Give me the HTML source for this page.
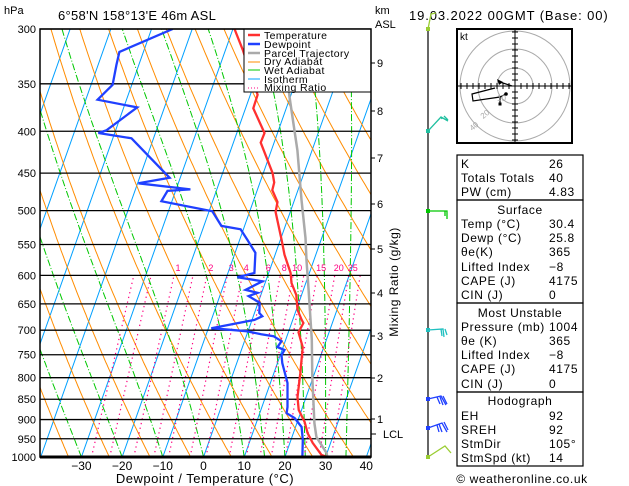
<!DOCTYPE html>
<html><head><meta charset="utf-8">
<style>
body{margin:0;background:#fff;width:629px;height:486px;overflow:hidden;font-family:"Liberation Sans",sans-serif}
svg{position:absolute;left:0;top:0}
text{font-family:"Liberation Sans",sans-serif}
</style></head>
<body>
<svg id="chart" width="629" height="486" viewBox="0 0 629 486">
<defs><clipPath id="plotclip"><rect x="40" y="29" width="331" height="428"/></clipPath></defs>
<g id="bg" clip-path="url(#plotclip)"></g>
<g id="grid"></g>
<g id="series" clip-path="url(#plotclip)"></g>
<g>
<rect x="244" y="29" width="127" height="63" fill="#fff" stroke="#000" stroke-width="1"/>
<line x1="248" y1="35" x2="260" y2="35" stroke="#ff3030" stroke-width="2.5"/><text x="264" y="39" font-size="10.5" letter-spacing="0.4">Temperature</text>
<line x1="248" y1="44" x2="260" y2="44" stroke="#2040ff" stroke-width="2.5"/><text x="264" y="48" font-size="10.5" letter-spacing="0.4">Dewpoint</text>
<line x1="248" y1="53" x2="260" y2="53" stroke="#aaa" stroke-width="2.5"/><text x="264" y="57" font-size="10.5" letter-spacing="0.4">Parcel Trajectory</text>
<line x1="248" y1="62" x2="260" y2="62" stroke="#ff8c00" stroke-width="1"/><text x="264" y="65" font-size="10.5" letter-spacing="0.4">Dry Adiabat</text>
<line x1="248" y1="70" x2="260" y2="70" stroke="#00c800" stroke-width="1"/><text x="264" y="74" font-size="10.5" letter-spacing="0.4">Wet Adiabat</text>
<line x1="248" y1="79" x2="260" y2="79" stroke="#00a0ff" stroke-width="1"/><text x="264" y="83" font-size="10.5" letter-spacing="0.4">Isotherm</text>
<line x1="248" y1="88" x2="260" y2="88" stroke="#ff0080" stroke-width="1" stroke-dasharray="1,2"/><text x="264" y="91" font-size="10.5" letter-spacing="0.4">Mixing Ratio</text>
</g>
<rect x="40" y="29" width="331" height="428" fill="none" stroke="#000" stroke-width="1.5"/>
<line x1="40" y1="457" x2="371" y2="457" stroke="#000" stroke-width="3"/>
<text x="4" y="14" font-size="11">hPa</text>
<text x="58" y="20" font-size="13" letter-spacing="0.3">6°58'N  158°13'E  46m  ASL</text>
<text x="375" y="14" font-size="11">km</text>
<text x="375" y="28" font-size="11">ASL</text>
<text x="409" y="20" font-size="13" letter-spacing="0.9">19.03.2022  00GMT  (Base: 00)</text>
<text x="205" y="483" font-size="13" letter-spacing="0.5" text-anchor="middle">Dewpoint / Temperature (°C)</text>
<text transform="translate(398,282) rotate(-90)" font-size="12" letter-spacing="0.5" text-anchor="middle">Mixing Ratio (g/kg)</text>
<g id="km"></g>
<g id="barbs"></g>
<g>
<rect x="457" y="29" width="115" height="114" fill="#fff" stroke="#000" stroke-width="2"/>
<text x="460" y="40" font-size="10">kt</text>
<circle cx="515" cy="86" r="18" fill="none" stroke="#aaa"/>
<circle cx="515" cy="86" r="37" fill="none" stroke="#aaa"/>
<circle cx="515" cy="86" r="55" fill="none" stroke="#aaa"/>
<line x1="457" y1="86" x2="572" y2="86" stroke="#000"/>
<line x1="515" y1="29" x2="515" y2="143" stroke="#000"/>
<g id="hodoticks"></g>
<path d="M500 82 L512 86 M495 88 L472 94 L473 101 L500 97 L506 94 M500 97 L500 104" fill="none" stroke="#000" stroke-width="1.2"/>
<path d="M497 79 L503 82 L499 85 Z" fill="#000"/>
<circle cx="506" cy="94" r="1.8" fill="#000"/><rect x="498.5" y="102.5" width="3" height="3" fill="#000"/>
<text x="497" y="101" font-size="8" fill="#aaa">10</text>
<text x="481" y="117" font-size="8" fill="#aaa" transform="rotate(-40 485 115)">20</text>
<text x="470" y="129" font-size="8" fill="#aaa" transform="rotate(-40 474 127)">40</text>
</g>
<g id="table" font-size="12" letter-spacing="0.6"></g>
<text x="522" y="483" font-size="12" letter-spacing="0.6" text-anchor="middle">© weatheronline.co.uk</text>
</svg>
<script>
// ---- data ----
const pressureLevels=[300,350,400,450,500,550,600,650,700,750,800,850,900,950,1000];
const tempTicks=[-30,-20,-10,0,10,20,30,40];
const tempP=[300,318,361,375,402,413,450,462,472,488,502,543,566,596,613,634,661,680,686,704,734,790,845,876,906,935,961,994,1000];
const tempT=[-29.6,-25.8,-18.2,-18.1,-13.2,-13.3,-7.7,-6.5,-6.3,-4.0,-3.6,0.3,2.3,5.4,6.5,8.7,10.3,12.2,12.9,12.5,14.8,16.5,17.9,19.3,21.8,23.5,25.6,28.8,30.4];
const dewP=[300,320,332,351,366,374,399,402,408,456,463,471,473,487,501,522,527,543,563,596,603,610,625,630,636,648,667,673,680,696,702,708,712,722,734,740,751,768,812,869,884,896,919,953,997,1000];
const dewT=[-44.8,-55.9,-55.5,-54.7,-57.1,-46.7,-52.3,-54.0,-45.4,-32.6,-39.8,-26.5,-32.0,-32.6,-19.2,-15.7,-10.7,-8.1,-5.0,-3.5,-7.3,-0.8,-4.2,-1.0,-2.9,0.4,1.2,2.2,0.6,-9.3,-0.4,3.5,6.7,9.1,8.6,10.6,10.3,11.2,14.2,16.3,16.6,19.0,21.5,22.9,24.2,24.5];
const parcelP=[300,363,422,485,540,575,625,719,799,909,945,989,1000];
const parcelT=[-17.8,-10.2,-3.6,1.7,6.0,8.2,11.3,16.4,19.8,24.3,26.0,29.9,30.4];
const dryTheta=[230,240,250,260,270,280,290,300,310,320,330,340,350,360,370,380,390,400,410,420,430,440,450,460,470,480];
const wetT1000=[-30,-20,-10,0,10,15,20,25,30,35];
const isoT=[-120,-110,-100,-90,-80,-70,-60,-50,-40,-30,-20,-10,0,10,20,30,40];
const mixW=[0.4,0.6,1,1.5,2,3,4,6,8,10,12,15,20,25,30];
const mixLabels=[1,2,3,4,6,8,10,15,20,25];
const kmValues=[1,2,3,4,5,6,7,8,9];
const kmY=[419,378,336,293,249,204,158,111,63];
// ---- axes ----
const NS='http://www.w3.org/2000/svg';
function yP(p){return 29+Math.log(p/300)/Math.log(1000/300)*428;}
function xT(t,p){return 203.5+4.07*t+0.354*(457-yP(p));}
function mk(tag,attrs,parent){const e=document.createElementNS(NS,tag);for(const k in attrs)e.setAttribute(k,attrs[k]);parent.appendChild(e);return e;}
const bg=document.getElementById('bg'),grid=document.getElementById('grid'),series=document.getElementById('series');
function poly(pts,style,parent,name){const d=pts.map((q,i)=>(i?'L':'M')+q[0].toFixed(1)+' '+q[1].toFixed(1)).join(' ');
 const e=mk('path',Object.assign({d:d,fill:'none'},style),parent);
 
 return e;}
const pSteps=[];for(let p=1000;p>=290;p-=5)pSteps.push(p);
isoT.forEach(t=>{poly([[xT(t,1000),yP(1000)],[xT(t,290),yP(290)]],{stroke:'#00a0ff','stroke-width':1},bg,'isotherm');});
dryTheta.forEach(th=>{poly(pSteps.map(p=>[xT(th*Math.pow(p/1000,0.286)-273.15,p),yP(p)]),{stroke:'#ff8c00','stroke-width':1},bg,'dry-adiabat');});
function es(tc){return 6.112*Math.exp(17.67*tc/(tc+243.5));}
wetT1000.forEach(t0=>{let T=t0+273.15,pts=[];for(let p=1000;p>=290;p-=5){pts.push([xT(T-273.15,p),yP(p)]);
 const e=es(T-273.15),rs=0.622*e/(p-e),Lv=2.5e6,Rd=287,cp=1005;
 const dTdp=(Rd*T+Lv*rs)/(p*(cp+Lv*Lv*rs*0.622/(Rd*T*T)));T-=dTdp*5;}
 poly(pts,{stroke:'#00c800','stroke-width':1,'stroke-dasharray':'7,2,1,2'},bg,'wet-adiabat');});
function tdW(w,p){const e=w/1000*p/(0.622+w/1000),l=Math.log(e/6.112);return 243.5*l/(17.67-l);}
mixW.forEach(w=>{poly([[xT(tdW(w,1000),1000),yP(1000)],[xT(tdW(w,600),600),yP(600)]],{stroke:'#ff0080','stroke-width':1.2,'stroke-dasharray':'1.3,3.5'},bg,'mixing-ratio-line');});
mixLabels.forEach(w=>{const t=mk('text',{x:(xT(tdW(w,600),600)+4).toFixed(1),y:271,'font-size':9,fill:'#ff0080','text-anchor':'middle'},bg);t.textContent=w;
 
 });
pressureLevels.forEach(p=>{const y=yP(p);mk('line',{x1:40,x2:371,y1:y,y2:y,stroke:'#000','stroke-width':1.3},grid);
 const t=mk('text',{x:36,y:y+4,'font-size':11,'text-anchor':'end'},grid);t.textContent=p;
 
 });
tempTicks.forEach(v=>{const x=xT(v,1000);const t=mk('text',{x:x,y:470,'font-size':12,'text-anchor':'middle'},grid);t.textContent=(v<0?'\u2212'+(-v):v);
 
 });
const km=document.getElementById('km');
kmValues.forEach((v,i)=>{mk('line',{x1:371,x2:375,y1:kmY[i],y2:kmY[i],stroke:'#000'},km);const t=mk('text',{x:377,y:kmY[i]+4,'font-size':11},km);t.textContent=v;
 
 });
mk('line',{x1:371,x2:376,y1:434,y2:434,stroke:'#000'},km);
{const t=mk('text',{x:383,y:438,'font-size':11},km);t.textContent='LCL';}
poly(parcelP.map((p,i)=>[xT(parcelT[i],p),yP(p)]),{stroke:'#aaa','stroke-width':2.5},series,'parcel-trajectory');
poly(dewP.map((p,i)=>[xT(dewT[i],p),yP(p)]),{stroke:'#2040ff','stroke-width':2.3},series,'dewpoint-line');
poly(tempP.map((p,i)=>[xT(tempT[i],p),yP(p)]),{stroke:'#ff3030','stroke-width':2.3},series,'temperature-line');
const barbs=document.getElementById('barbs');
mk('line',{x1:428,x2:428,y1:28,y2:458,stroke:'#000','stroke-width':1.2},barbs);
const bdefs=[['#9acd32','M428 29 L431 14 L436 13'],['#20c0a0','M428 131 L441 117 L448 121 M441 117 L442 119 M444 116 L448 120'],['#00c800','M428 211 L447 211 L447 219 M445 211 L445 216'],['#20c0c0','M428 330 L443 329 L444 337 M441 329 L442 336 M445 329 L447 335'],['#2040ff','M428 399 L441 396 L446 405 M440 397 L443 405 M443 396 L447 404 M437 397 L440 404'],['#2040ff','M428 428 L442 423 L447 432 M439 424 L442 432 M444 422 L448 430 M437 425 L439 432'],['#9acd32','M428 457 L445 446 L451 453']];
bdefs.forEach(b=>{const e=mk('path',{d:b[1],fill:'none',stroke:b[0],'stroke-width':1.3},barbs);
 const y=parseFloat(b[1].split(' ')[1]);mk('rect',{x:426,y:y-2,width:4,height:4,fill:b[0]},barbs);});
const ht=document.getElementById('hodoticks');
for(let d=-54;d<=54;d+=6){if(!d)continue;mk('line',{x1:515+d,x2:515+d,y1:83,y2:89,stroke:'#000'},ht);mk('line',{x1:512,x2:518,y1:86+d,y2:86+d,stroke:'#000'},ht);}
const tb=document.getElementById('table');
const sections=[[155,200],[200,303],[303,392],[392,466]];
sections.forEach(s=>mk('rect',{x:457,y:s[0],width:126,height:s[1]-s[0],fill:'none',stroke:'#000','stroke-width':1.2},tb));
const rows=[['K','26',168],['Totals Totals','40',182],['PW (cm)','4.83',196],['#Surface','',214],['Temp (°C)','30.4',228],['Dewp (°C)','25.8',242],['θe(K)','365',256],['Lifted Index','\u22128',271],['CAPE (J)','4175',285],['CIN (J)','0',299],['#Most Unstable','',317],['Pressure (mb)','1004',331],['θe (K)','365',345],['Lifted Index','\u22128',359],['CAPE (J)','4175',373],['CIN (J)','0',388],['#Hodograph','',405],['EH','92',420],['SREH','92',434],['StmDir','105°',448],['StmSpd (kt)','14',462]];
rows.forEach(r=>{if(r[0][0]==='#'){const t=mk('text',{x:520,y:r[2],'text-anchor':'middle'},tb);t.textContent=r[0].slice(1);return;}
 const a=mk('text',{x:461,y:r[2]},tb);a.textContent=r[0];
 const b=mk('text',{x:549,y:r[2]},tb);b.textContent=r[1];});
</script>
</body></html>
